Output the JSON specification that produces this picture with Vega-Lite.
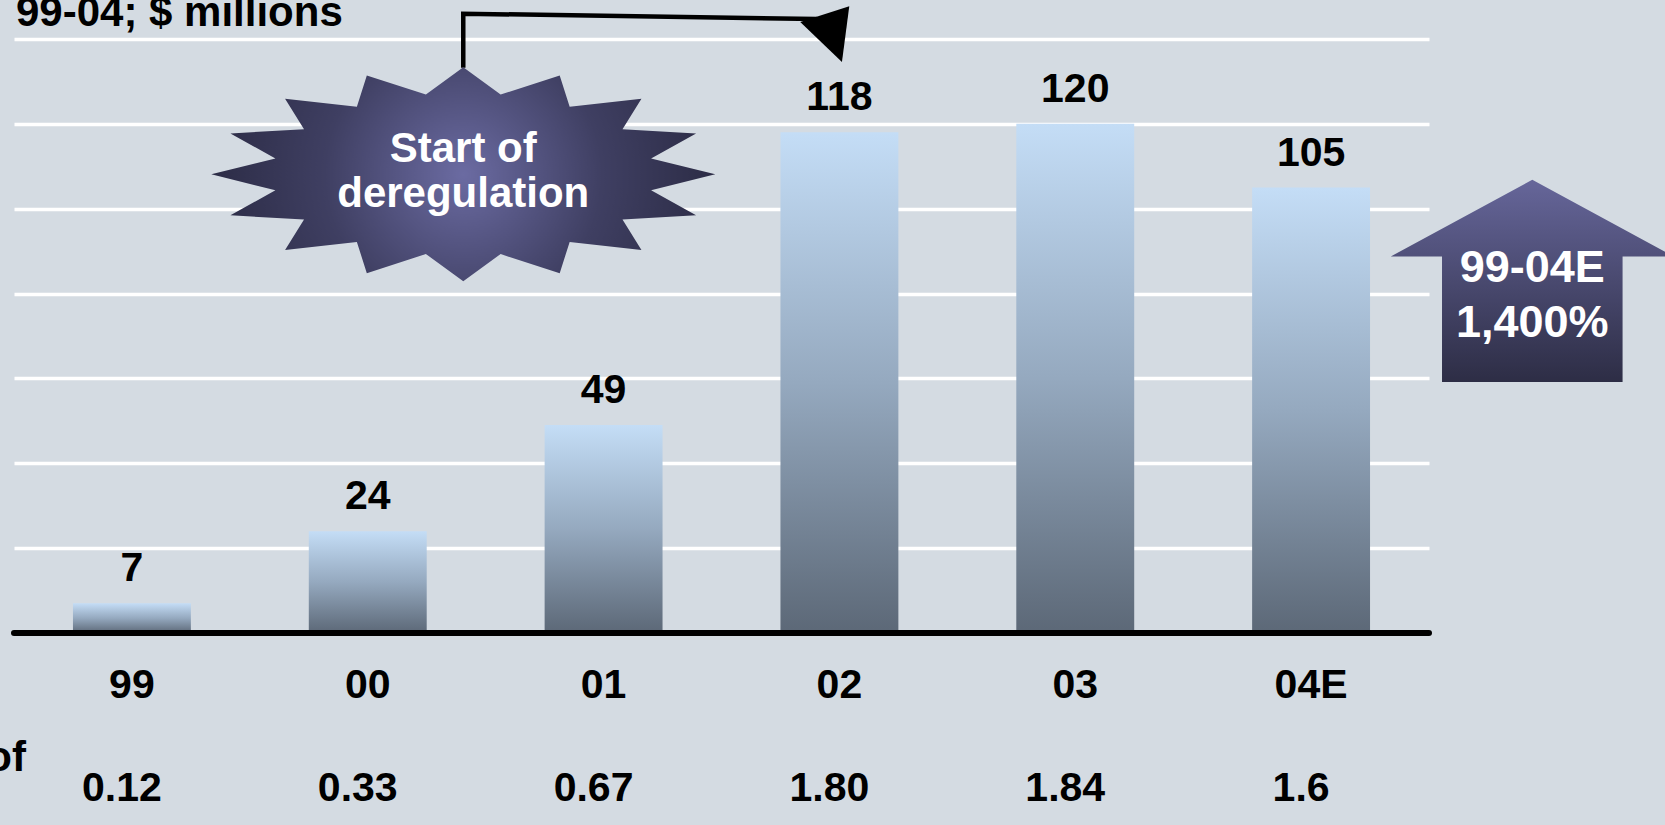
{
  "$schema": "https://vega.github.io/schema/vega-lite/v6.json",
  "width": 1415,
  "height": 594,
  "autosize": {"type": "none"},
  "padding": {"left": 14, "top": 39, "right": 236, "bottom": 192},
  "background": "#d4dbe2",
  "config": {
    "view": {"stroke": null},
    "font": "Liberation Sans",
    "text": {"font": "Liberation Sans", "fontWeight": "bold", "color": "#000000"}
  },
  "datasets": {
    "bars": [
      {"year": "99", "sales": 7, "ratio": "0.12"},
      {"year": "00", "sales": 24, "ratio": "0.33"},
      {"year": "01", "sales": 49, "ratio": "0.67"},
      {"year": "02", "sales": 118, "ratio": "1.80"},
      {"year": "03", "sales": 120, "ratio": "1.84"},
      {"year": "04E", "sales": 105, "ratio": "1.6"}
    ],
    "baseline": [{"start": -0.5, "end": 5.5, "value": 0}],
    "connector": [
      {"step": 1, "pos": 1.405, "value": 133.2},
      {"step": 2, "pos": 1.405, "value": 145.97},
      {"step": 3, "pos": 2.906, "value": 144.7}
    ],
    "arrowhead": [{"pos": 2.962, "value": 142.08}],
    "star": [{"pos": 1.405, "value": 108.1, "text": ["Start of", "deregulation"]}],
    "growth": [{"pos": 5.938, "value": 82.98, "text": ["99-04E", "1,400%"]}],
    "heading": [{"t": "99-04; $ millions"}],
    "rowlabel": [{"t": "of"}]
  },
  "resolve": {"scale": {"x": "independent"}},
  "layer": [
    {
      "data": {"name": "bars"},
      "encoding": {
        "x": {"field": "year", "type": "nominal", "sort": null, "scale": {"paddingInner": 0.5, "paddingOuter": 0.25}, "axis": null},
        "y": {
          "field": "sales", "type": "quantitative",
          "scale": {"domain": [0, 140], "nice": false, "zero": true},
          "axis": {"values": [20, 40, 60, 80, 100, 120, 140], "grid": true, "gridColor": "#ffffff", "gridWidth": 3.5, "gridOpacity": 1, "labels": false, "ticks": false, "domain": false, "title": null}
        }
      },
      "layer": [
        {
          "mark": {
            "type": "bar",
            "fill": {"gradient": "linear", "x1": 0, "y1": 0, "x2": 0, "y2": 1,
              "stops": [{"offset": 0, "color": "#c4ddf6"}, {"offset": 0.5, "color": "#95a9bf"}, {"offset": 1, "color": "#5c6877"}]},
            "strokeWidth": 0
          }
        },
        {
          "mark": {"type": "text", "baseline": "alphabetic", "dy": -22, "fontSize": 41},
          "encoding": {"text": {"field": "sales", "type": "quantitative"}}
        },
        {
          "mark": {"type": "text", "baseline": "alphabetic", "dy": 65, "fontSize": 41},
          "encoding": {"y": {"datum": 0}, "text": {"field": "year", "type": "nominal"}}
        },
        {
          "mark": {"type": "text", "baseline": "alphabetic", "dy": 168, "dx": -10, "fontSize": 41},
          "encoding": {"y": {"datum": 0}, "text": {"field": "ratio", "type": "nominal"}}
        }
      ]
    },
    {
      "layer": [
        {
          "data": {"name": "baseline"},
          "mark": {"type": "rule", "color": "#000000", "strokeWidth": 6, "strokeCap": "round"},
          "encoding": {
            "x": {"field": "start", "type": "quantitative", "scale": {"domain": [-0.5, 5.5], "nice": false, "zero": false}, "axis": null},
            "x2": {"field": "end"},
            "y": {"field": "value", "type": "quantitative", "scale": {"domain": [0, 140], "nice": false}}
          }
        },
        {
          "data": {"name": "connector"},
          "mark": {"type": "line", "color": "#000000", "strokeWidth": 4.5, "strokeJoin": "miter", "strokeCap": "butt"},
          "encoding": {
            "x": {"field": "pos", "type": "quantitative", "scale": {"domain": [-0.5, 5.5], "nice": false, "zero": false}, "axis": null},
            "y": {"field": "value", "type": "quantitative", "scale": {"domain": [0, 140], "nice": false}},
            "order": {"field": "step", "type": "quantitative"}
          }
        },
        {
          "data": {"name": "arrowhead"},
          "mark": {"type": "point", "shape": "M-0.944,-0.253L0.588,-0.744L0.359,0.997Z", "size": 4096, "filled": true, "fill": "#000000", "opacity": 1, "strokeWidth": 0},
          "encoding": {
            "x": {"field": "pos", "type": "quantitative", "scale": {"domain": [-0.5, 5.5], "nice": false, "zero": false}, "axis": null},
            "y": {"field": "value", "type": "quantitative", "scale": {"domain": [0, 140], "nice": false}}
          }
        },
        {
          "data": {"name": "star"},
          "mark": {
            "type": "point",
            "shape": "M0,-0.4246L0.1483,-0.3165L0.3827,-0.3923L0.4222,-0.2683L0.7071,-0.3002L0.6319,-0.1793L0.9239,-0.1625L0.7454,-0.063L1,0L0.7454,0.063L0.9239,0.1625L0.6319,0.1793L0.7071,0.3002L0.4222,0.2683L0.3827,0.3923L0.1483,0.3165L0,0.4246L-0.1483,0.3165L-0.3827,0.3923L-0.4222,0.2683L-0.7071,0.3002L-0.6319,0.1793L-0.9239,0.1625L-0.7454,0.063L-1,0L-0.7454,-0.063L-0.9239,-0.1625L-0.6319,-0.1793L-0.7071,-0.3002L-0.4222,-0.2683L-0.3827,-0.3923L-0.1483,-0.3165Z",
            "size": 254016,
            "filled": true,
            "opacity": 1,
            "strokeWidth": 0,
            "fill": {"gradient": "radial", "x1": 0.5, "y1": 0.5, "r1": 0, "x2": 0.5, "y2": 0.5, "r2": 0.5,
              "stops": [{"offset": 0, "color": "#6b6ba2"}, {"offset": 0.55, "color": "#3f3f62"}, {"offset": 1, "color": "#2c2c46"}]}
          },
          "encoding": {
            "x": {"field": "pos", "type": "quantitative", "scale": {"domain": [-0.5, 5.5], "nice": false, "zero": false}, "axis": null},
            "y": {"field": "value", "type": "quantitative", "scale": {"domain": [0, 140], "nice": false}}
          }
        },
        {
          "data": {"name": "star"},
          "mark": {"type": "text", "align": "center", "baseline": "alphabetic", "dy": -12, "fontSize": 42, "lineHeight": 45, "color": "#ffffff"},
          "encoding": {
            "x": {"field": "pos", "type": "quantitative", "scale": {"domain": [-0.5, 5.5], "nice": false, "zero": false}, "axis": null},
            "y": {"field": "value", "type": "quantitative", "scale": {"domain": [0, 140], "nice": false}},
            "text": {"field": "text"}
          }
        },
        {
          "data": {"name": "growth"},
          "mark": {
            "type": "point",
            "shape": "M0,-0.715L1,-0.173L0.638,-0.173L0.638,0.715L-0.638,0.715L-0.638,-0.173L-1,-0.173Z",
            "size": 80089,
            "filled": true,
            "opacity": 1,
            "strokeWidth": 0,
            "fill": {"gradient": "linear", "x1": 0, "y1": 0, "x2": 0, "y2": 1,
              "stops": [{"offset": 0, "color": "#66669a"}, {"offset": 1, "color": "#2d2d45"}]}
          },
          "encoding": {
            "x": {"field": "pos", "type": "quantitative", "scale": {"domain": [-0.5, 5.5], "nice": false, "zero": false}, "axis": null},
            "y": {"field": "value", "type": "quantitative", "scale": {"domain": [0, 140], "nice": false}}
          }
        },
        {
          "data": {"name": "growth"},
          "mark": {"type": "text", "align": "center", "baseline": "alphabetic", "dy": 1, "fontSize": 45, "lineHeight": 55, "color": "#ffffff"},
          "encoding": {
            "x": {"field": "pos", "type": "quantitative", "scale": {"domain": [-0.5, 5.5], "nice": false, "zero": false}, "axis": null},
            "y": {"field": "value", "type": "quantitative", "scale": {"domain": [0, 140], "nice": false}},
            "text": {"field": "text"}
          }
        },
        {
          "data": {"name": "heading"},
          "mark": {"type": "text", "align": "left", "baseline": "alphabetic", "dx": 2, "dy": -12.6, "fontSize": 42},
          "encoding": {
            "x": {"datum": -0.5, "type": "quantitative", "scale": {"domain": [-0.5, 5.5], "nice": false, "zero": false}, "axis": null},
            "y": {"datum": 140, "type": "quantitative"},
            "text": {"field": "t"}
          }
        },
        {
          "data": {"name": "rowlabel"},
          "mark": {"type": "text", "align": "right", "baseline": "alphabetic", "dx": 12, "dy": 137.5, "fontSize": 42},
          "encoding": {
            "x": {"datum": -0.5, "type": "quantitative", "scale": {"domain": [-0.5, 5.5], "nice": false, "zero": false}, "axis": null},
            "y": {"datum": 0, "type": "quantitative"},
            "text": {"field": "t"}
          }
        }
      ]
    }
  ]
}
